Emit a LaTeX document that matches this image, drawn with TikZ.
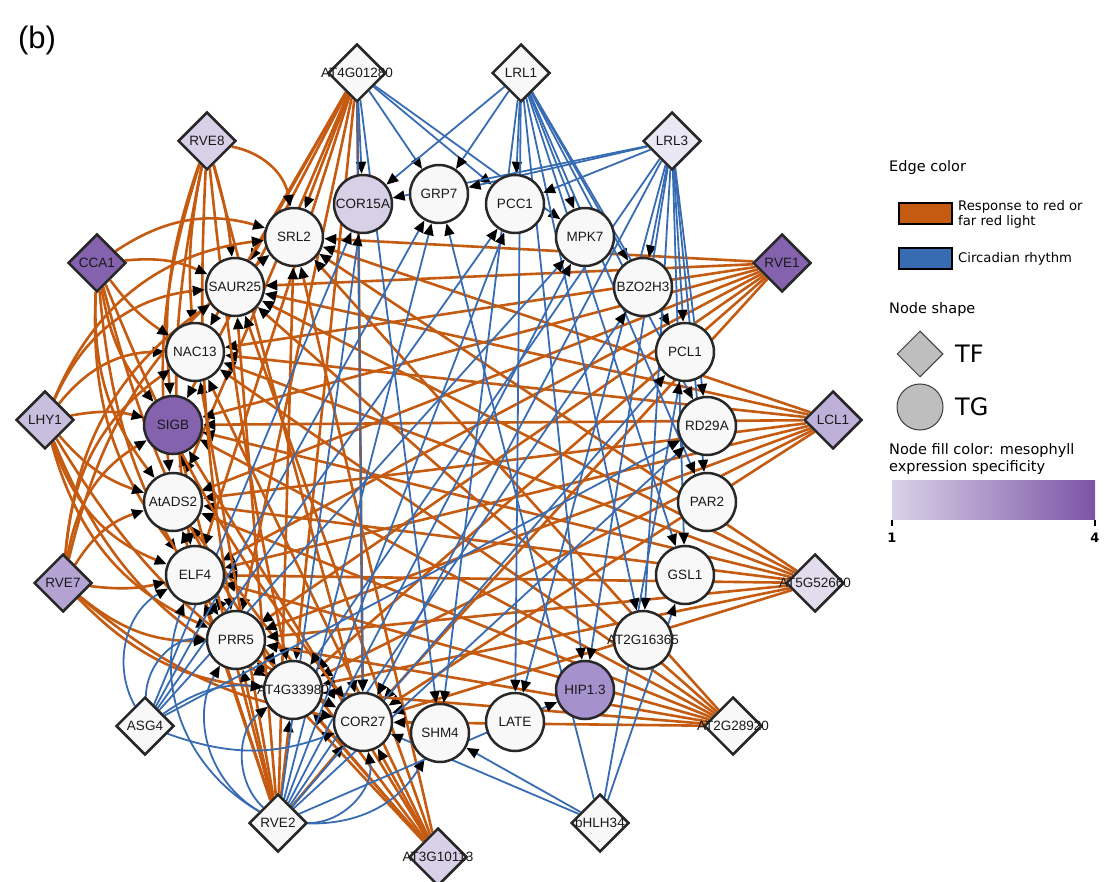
\documentclass[tikz,border=0pt]{standalone}
\usepackage{fontspec}
\setmainfont{Liberation Sans}
\newfontfamily\dejavu{DejaVu Sans}
\usetikzlibrary{shapes.geometric,arrows.meta,backgrounds}
\definecolor{eorange}{RGB}{197,90,17}
\definecolor{eblue}{RGB}{56,108,178}
\definecolor{nwhite}{RGB}{248,248,248}
\definecolor{nborder}{RGB}{40,40,40}
\definecolor{pa}{RGB}{234,232,244}
\definecolor{pb}{RGB}{226,220,236}
\definecolor{pc}{RGB}{216,208,230}
\definecolor{pd}{RGB}{200,190,222}
\definecolor{pe}{RGB}{190,176,216}
\definecolor{pf}{RGB}{180,163,210}
\definecolor{pg}{RGB}{165,145,204}
\definecolor{ph}{RGB}{133,98,174}
\definecolor{gradL}{RGB}{218,210,232}
\definecolor{gradR}{RGB}{124,84,166}
\definecolor{leggray}{RGB}{190,190,190}
\tikzset{
  tfnode/.style={diamond, draw=nborder, line width=2.5pt, minimum size=58pt, inner sep=0pt, shape aspect=1},
  tgnode/.style={circle, draw=nborder, line width=2.5pt, minimum size=58pt, inner sep=0pt},
  nodetext/.style={font=\fontsize{13.5}{15}\selectfont, text=black!90},
  oedge/.style={draw=eorange, line width=2.6pt, -{Triangle[length=12pt,width=10pt,color=black]}},
  bedge/.style={draw=eblue, line width=1.8pt, -{Triangle[length=12pt,width=10pt,color=black]}},
  legtext/.style={font=\dejavu\fontsize{14.5}{17}\selectfont, anchor=west, inner sep=0pt}
}
\newcommand{\TF}[4]{\node[tfnode, fill=#4, label={[nodetext]center:#3}] (#1) at (#2) {};}
\newcommand{\TG}[4]{\node[tgnode, fill=#4, label={[nodetext]center:#3}] (#1) at (#2) {};}
\begin{document}
\begin{tikzpicture}[x=1pt,y=-1pt]
\useasboundingbox (0,0) rectangle (1120,882);
\node[font=\fontsize{31}{34}\selectfont, inner sep=0pt] (panel) at (37,40) {(b)};

% TF nodes
\TF{AT4G01280}{357,73}{AT4G01280}{nwhite}
\TF{LRL1}{521,73}{LRL1}{nwhite}
\TF{RVE8}{207,141}{RVE8}{pc}
\TF{LRL3}{672,141}{LRL3}{pa}
\TF{CCA1}{97,263}{CCA1}{ph}
\TF{RVE1}{782,263}{RVE1}{ph}
\TF{LHY1}{45,420}{LHY1}{pd}
\TF{LCL1}{833,420}{LCL1}{pe}
\TF{RVE7}{63,583}{RVE7}{pf}
\TF{AT5G52660}{815,583}{AT5G52660}{pb}
\TF{ASG4}{145,726}{ASG4}{nwhite}
\TF{AT2G28920}{733,726}{AT2G28920}{nwhite}
\TF{RVE2}{278,823}{RVE2}{nwhite}
\TF{bHLH34}{600,823}{bHLH34}{nwhite}
\TF{AT3G10113}{438,857}{AT3G10113}{pc}

% TG nodes
\TG{COR15A}{363,204}{COR15A}{pc}
\TG{GRP7}{439,194}{GRP7}{nwhite}
\TG{PCC1}{515,204}{PCC1}{nwhite}
\TG{SRL2}{294,237}{SRL2}{nwhite}
\TG{MPK7}{585,237}{MPK7}{nwhite}
\TG{SAUR25}{235,287}{SAUR25}{nwhite}
\TG{BZO2H3}{643,287}{BZO2H3}{nwhite}
\TG{NAC13}{195,352}{NAC13}{nwhite}
\TG{PCL1}{685,352}{PCL1}{nwhite}
\TG{SIGB}{173,425}{SIGB}{ph}
\TG{RD29A}{707,426}{RD29A}{nwhite}
\TG{AtADS2}{173,502}{AtADS2}{nwhite}
\TG{PAR2}{707,502}{PAR2}{nwhite}
\TG{ELF4}{195,575}{ELF4}{nwhite}
\TG{GSL1}{685,575}{GSL1}{nwhite}
\TG{PRR5}{236,640}{PRR5}{nwhite}
\TG{AT2G16365}{643,640}{AT2G16365}{nwhite}
\TG{AT4G33980}{293,690}{AT4G33980}{nwhite}
\TG{HIP13}{585,690}{HIP1.3}{pg}
\TG{COR27}{363,722}{COR27}{nwhite}
\TG{LATE}{515,722}{LATE}{nwhite}
\TG{SHM4}{440,733}{SHM4}{nwhite}

\begin{pgfonlayer}{background}
% orange edges, straight
\foreach \s in {AT4G01280,AT3G10113,RVE1,LCL1,AT5G52660,AT2G28920,RVE2}
  \foreach \t in {SRL2,SAUR25,NAC13,SIGB,AtADS2,ELF4,PRR5,AT4G33980,COR27}
    \draw[oedge] (\s) -- (\t);
% orange edges, bent
\foreach \t/\b in {SRL2/35,SAUR25/5,NAC13/-8,SIGB/-12,AtADS2/-12,ELF4/-10,PRR5/-6,AT4G33980/-3,COR27/0}
  \draw[oedge] (RVE8) to[bend left=\b] (\t);
\foreach \t/\b in {SRL2/25,SAUR25/15,NAC13/-10,SIGB/-15,AtADS2/-20,ELF4/-20,PRR5/-15,AT4G33980/-10,COR27/-8}
  \draw[oedge] (CCA1) to[bend left=\b] (\t);
\foreach \t/\b in {SRL2/30,SAUR25/30,NAC13/25,SIGB/12,AtADS2/-15,ELF4/-25,PRR5/-25,AT4G33980/-20,COR27/-15}
  \draw[oedge] (LHY1) to[bend left=\b] (\t);
\foreach \t/\b in {SRL2/20,SAUR25/25,NAC13/25,SIGB/25,AtADS2/20,ELF4/-10,PRR5/-20,AT4G33980/-20,COR27/-15}
  \draw[oedge] (RVE7) to[bend left=\b] (\t);
% blue edges
\foreach \t in {COR15A,GRP7,PCC1,MPK7,COR27,SHM4}
  \draw[bedge] (AT4G01280) -- (\t);
\foreach \t in {COR15A,GRP7,PCC1,MPK7,BZO2H3,PCL1,RD29A,PAR2,GSL1,AT2G16365,HIP13,LATE,SHM4}
  \draw[bedge] (LRL1) -- (\t);
\foreach \t in {COR15A,GRP7,PCC1,BZO2H3,PCL1,RD29A,PAR2,GSL1,AT2G16365,HIP13,LATE,AT4G33980,COR27}
  \draw[bedge] (LRL3) -- (\t);
\foreach \t in {SHM4,COR27,GSL1,PCL1,GRP7}
  \draw[bedge] (bHLH34) -- (\t);
\foreach \t/\b in {ELF4/45,PRR5/45,AT4G33980/20,COR27/-20,COR15A/0,GRP7/0,PCC1/0,RD29A/0,MPK7/0}
  \draw[bedge] (ASG4) to[bend left=\b] (\t);
\foreach \t/\b in {ELF4/40,PRR5/45,AT4G33980/50,COR27/-50,SHM4/-30,COR15A/0,GRP7/0,PCC1/0,MPK7/0,BZO2H3/0,PCL1/0,RD29A/0,HIP13/0}
  \draw[bedge] (RVE2) to[bend left=\b] (\t);
\end{pgfonlayer}

% legend
\node[legtext] (legEdge) at (889,168) {Edge color};
\node[draw=black, line width=1.2pt, fill=eorange, minimum width=53pt, minimum height=21pt, inner sep=0pt] (legO) at (925.5,213.5) {};
\node[legtext, font=\dejavu\fontsize{13.2}{15}\selectfont, align=left] (legOt) at (958,214.5) {Response to red or\\far red light};
\node[draw=black, line width=1.2pt, fill=eblue, minimum width=53pt, minimum height=21pt, inner sep=0pt] (legB) at (925.5,258.5) {};
\node[legtext, font=\dejavu\fontsize{13.2}{15}\selectfont] (legBt) at (958,258.5) {Circadian rhythm};
\node[legtext] (legShape) at (889,310) {Node shape};
\node[diamond, shape aspect=1, draw=nborder!90, line width=1pt, fill=leggray, minimum size=46pt, inner sep=0pt] (legTF) at (920,354) {};
\node[legtext, font=\dejavu\fontsize{24}{26}\selectfont] (legTFt) at (955,354) {TF};
\node[circle, draw=nborder!90, line width=1pt, fill=leggray, minimum size=46pt, inner sep=0pt] (legTG) at (920,407) {};
\node[legtext, font=\dejavu\fontsize{24}{26}\selectfont] (legTGt) at (955,407) {TG};
\node[legtext, font=\dejavu\fontsize{14.5}{17.5}\selectfont, align=left] (legFill) at (889,459) {Node fill color: mesophyll\\expression specificity};
\shade[left color=gradL, right color=gradR] (892,481) rectangle (1095,520);
\draw[line width=1.5pt] (892,520) -- (892,526) (1095,520) -- (1095,526);
\node[font=\dejavu\bfseries\fontsize{13}{15}\selectfont, inner sep=0pt] (leg1) at (892,538) {1};
\node[font=\dejavu\bfseries\fontsize{13}{15}\selectfont, inner sep=0pt] (leg4) at (1095,538) {4};
\end{tikzpicture}
\end{document}
